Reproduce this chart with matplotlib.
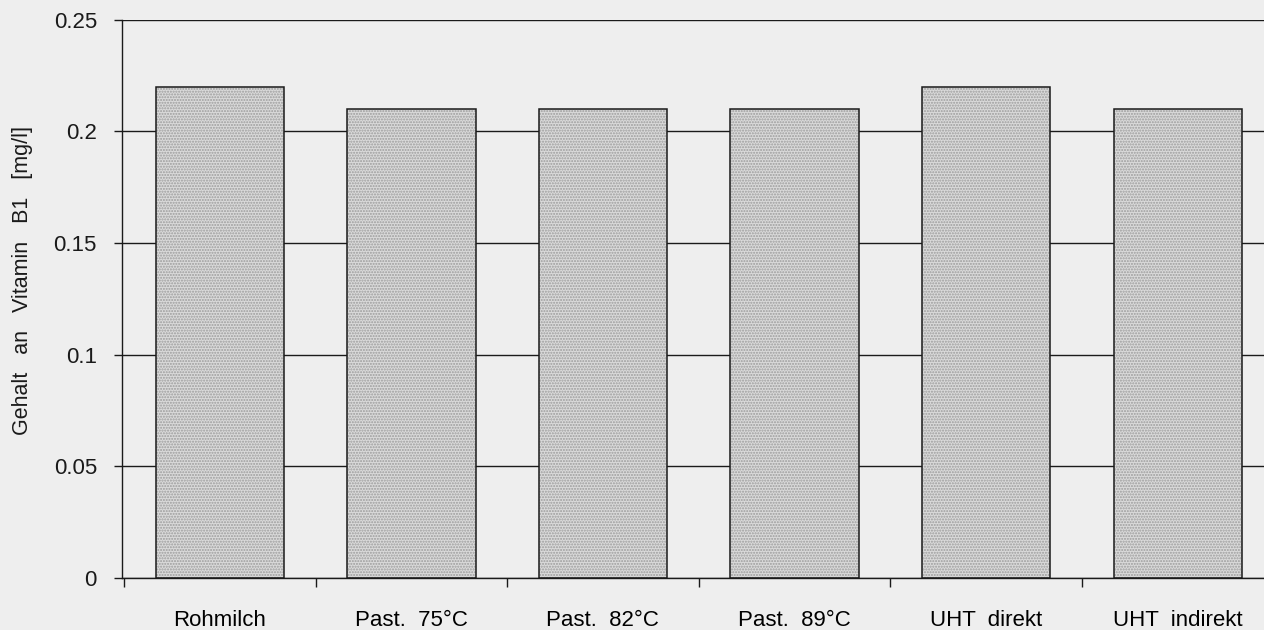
import matplotlib

matplotlib.use("Agg")
import matplotlib.pyplot as plt

# Vitamin B1 content per milk treatment
categories = ["Rohmilch", "Past.  75°C", "Past.  82°C", "Past.  89°C", "UHT  direkt", "UHT  indirekt"]
vitamin_b1 = [0.22, 0.21, 0.21, 0.21, 0.22, 0.21]
y_ticks = [0, 0.05, 0.1, 0.15, 0.2, 0.25]
y_ticklabels = ["0", "0.05", "0.1", "0.15", "0.2", "0.25"]

plt.rcParams["font.family"] = ["Liberation Sans", "DejaVu Sans"]

BG = "#eeeeee"
fig = plt.figure(figsize=(12.64, 6.30), dpi=100, facecolor=BG)
ax = fig.add_axes([0.0965, 0.0825, 0.9035, 0.886])
ax.set_facecolor(BG)

x = list(range(len(categories)))
# dotted fill (hatch only), then the black outline on top
ax.bar(x, vitamin_b1, width=0.67, color="#dadada", edgecolor="#9c9c9c",
       hatch="......", linewidth=0, zorder=2)
ax.bar(x, vitamin_b1, width=0.67, fill=False, edgecolor="#1a1a1a",
       linewidth=1.1, zorder=3)

ax.set_xlim(-0.51, 5.45)
ax.set_ylim(0, 0.25)

ax.set_yticks(y_ticks)
ax.set_yticklabels(y_ticklabels, fontsize=16)
ax.yaxis.grid(True, color="#1a1a1a", linewidth=1.0, zorder=1)
ax.set_axisbelow(True)
ax.tick_params(axis="y", direction="out", length=6, width=1.0, pad=12, colors="#1a1a1a")

# category labels at bar centres, tick marks between categories
ax.set_xticks(x)
ax.set_xticklabels(categories, fontsize=16)
ax.tick_params(axis="x", which="major", length=0, pad=23)
ax.set_xticks([-0.5 + i for i in range(len(categories))], minor=True)
ax.tick_params(axis="x", which="minor", direction="out", length=6.5, width=1.0, color="#1a1a1a")

for side in ("top", "right"):
    ax.spines[side].set_visible(False)
for side in ("left", "bottom"):
    ax.spines[side].set_color("#1a1a1a")
    ax.spines[side].set_linewidth(1.0)

fig.text(0.0175, 0.554, "Gehalt   an   Vitamin   B1   [mg/l]", rotation=90,
         ha="center", va="center", fontsize=15.5, color="#1a1a1a")

fig.savefig("out.png", dpi=100, facecolor=BG)
